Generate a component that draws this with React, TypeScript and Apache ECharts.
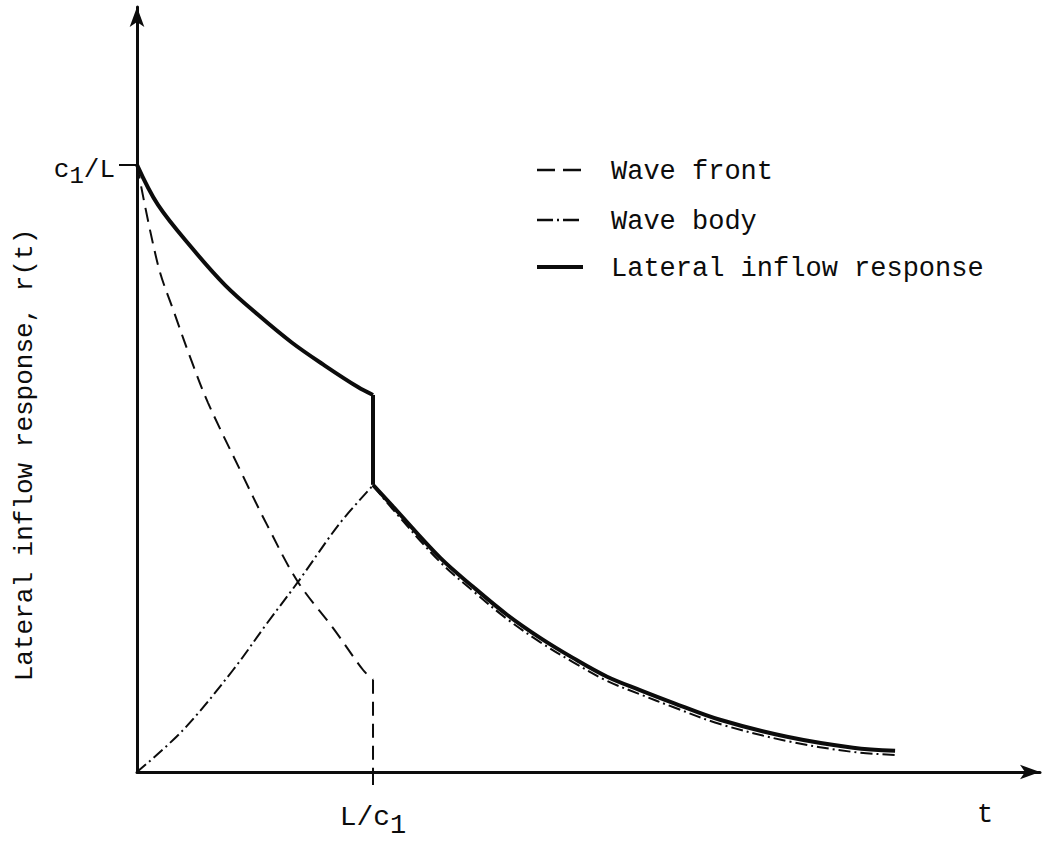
import React, { useEffect, useRef } from "react";
import * as echarts from "echarts";

// time in units of L/c1, response in units of c1/L
const responsePreT = [0, 0.089, 0.233, 0.373, 0.513, 0.657, 0.797, 0.936, 1.0];
const responsePreR = [1.0, 0.934, 0.863, 0.802, 0.753, 0.707, 0.669, 0.634, 0.621];
const responseJumpT = [1.0, 1.0];
const responseJumpR = [0.621, 0.473];
const responsePostT = [1.0, 1.085, 1.284, 1.424, 1.568, 1.708, 1.847, 1.992, 2.131, 2.271, 2.47, 2.754, 3.034, 3.212];
const responsePostR = [0.473, 0.437, 0.353, 0.305, 0.259, 0.221, 0.188, 0.157, 0.135, 0.114, 0.086, 0.058, 0.04, 0.035];

const frontT = [0, 0.089, 0.161, 0.233, 0.301, 0.436, 0.551, 0.682, 0.831, 0.958, 1.0];
const frontR = [1.0, 0.835, 0.753, 0.675, 0.608, 0.498, 0.407, 0.313, 0.237, 0.168, 0.152];
const frontDropT = [1.0, 1.0];
const frontDropR = [0.152, 0];

const bodyPreT = [0, 0.195, 0.407, 0.551, 0.682, 0.86, 1.0];
const bodyPreR = [0, 0.069, 0.168, 0.245, 0.313, 0.41, 0.472];
const bodyPostT = [1.0, 1.085, 1.284, 1.424, 1.568, 1.708, 1.847, 1.992, 2.131, 2.271, 2.47, 2.754, 3.034, 3.212];
const bodyPostR = [0.472, 0.432, 0.346, 0.298, 0.252, 0.214, 0.181, 0.15, 0.128, 0.107, 0.079, 0.051, 0.033, 0.028];

const legendNames = ["Wave front", "Wave body", "Lateral inflow response"];
const xTickValues = [1];
const yTickValues = [1];
const xTickLabel = "L/c{s|1}";
const yTickLabel = "c{s|1}/L";
const yTitle = "Lateral inflow response, r(t)";
const xTitle = "t";

const FONT = "'Liberation Mono', 'DejaVu Sans Mono', monospace";
const INK = "#0c0c0c";

const zip = (a: number[], b: number[]) => a.map((v, i) => [v, b[i]]);

export default function App() {
  const ref = useRef<HTMLDivElement>(null);
  useEffect(() => {
    if (!ref.current) return;
    const chart = echarts.init(ref.current, null, { renderer: "svg" });
    const dashed = { color: INK, width: 2, type: [14, 8] as number[] };
    const dashDot = { color: INK, width: 2, type: [12, 4, 2, 4] as number[] };
    const solid = { color: INK, width: 4, type: "solid" as const };
    const legendStyles = [
      { lineWidth: 2.5, lineDash: [18, 8] },
      { lineWidth: 2.5, lineDash: [16, 4, 2, 4] },
      { lineWidth: 4, lineDash: null },
    ];
    const legendY = [170, 220, 267];
    const legendGraphics: any[] = [];
    legendNames.forEach((name, i) => {
      legendGraphics.push({
        type: "line",
        shape: { x1: 537, y1: legendY[i], x2: 583, y2: legendY[i] },
        style: { stroke: INK, lineWidth: legendStyles[i].lineWidth, lineDash: legendStyles[i].lineDash },
      });
      legendGraphics.push({
        type: "text",
        x: 611,
        y: legendY[i] + 2,
        style: {
          text: name,
          fontFamily: FONT,
          fontSize: 27,
          fill: INK,
          align: "left",
          verticalAlign: "middle",
        },
      });
    });
    const common = { type: "line", symbol: "none", clip: false };
    chart.setOption({
      animation: false,
      backgroundColor: "#fff",
      grid: { left: 137, right: 5, top: 7, bottom: 73 },
      xAxis: {
        type: "value",
        min: 0,
        max: 3.826,
        axisLine: {
          show: true,
          symbol: ["none", "arrow"],
          symbolSize: [11, 20],
          lineStyle: { color: INK, width: 3 },
        },
        axisTick: {
          show: true,
          customValues: xTickValues,
          length: 13,
          lineStyle: { color: INK, width: 2 },
        },
        axisLabel: {
          show: true,
          customValues: xTickValues,
          formatter: () => xTickLabel,
          margin: 24,
          fontFamily: FONT,
          fontSize: 28,
          color: INK,
          rich: { s: { fontFamily: FONT, fontSize: 27, color: INK, padding: [16, 0, 0, 0] } },
        },
        splitLine: { show: false },
      },
      yAxis: {
        type: "value",
        min: 0,
        max: 1.26,
        axisLine: {
          show: true,
          symbol: ["none", "arrow"],
          symbolSize: [11, 20],
          lineStyle: { color: INK, width: 3 },
        },
        axisTick: {
          show: true,
          customValues: yTickValues,
          length: 18,
          lineStyle: { color: INK, width: 2 },
        },
        axisLabel: {
          show: true,
          customValues: yTickValues,
          formatter: () => yTickLabel,
          margin: 22,
          padding: [10, 0, 0, 0],
          fontFamily: FONT,
          fontSize: 26,
          color: INK,
          rich: { s: { fontFamily: FONT, fontSize: 24, color: INK, padding: [14, 0, 0, 0] } },
        },
        splitLine: { show: false },
      },
      graphic: [
        ...legendGraphics,
        {
          type: "text",
          x: 25,
          y: 455,
          rotation: Math.PI / 2,
          style: {
            text: yTitle,
            fontFamily: FONT,
            fontSize: 26,
            fill: INK,
            align: "center",
            verticalAlign: "middle",
          },
        },
        {
          type: "text",
          x: 985,
          y: 815,
          style: {
            text: xTitle,
            fontFamily: FONT,
            fontSize: 27,
            fill: INK,
            align: "center",
            verticalAlign: "middle",
          },
        },
      ],
      series: [
        { ...common, name: legendNames[0], smooth: 0.35, lineStyle: dashed, data: zip(frontT, frontR) },
        { ...common, name: legendNames[0], lineStyle: dashed, data: zip(frontDropT, frontDropR) },
        { ...common, name: legendNames[1], smooth: 0.35, lineStyle: dashDot, data: zip(bodyPreT, bodyPreR) },
        { ...common, name: legendNames[1], smooth: 0.35, lineStyle: dashDot, data: zip(bodyPostT, bodyPostR) },
        { ...common, name: legendNames[2], smooth: 0.35, lineStyle: solid, data: zip(responsePreT, responsePreR) },
        { ...common, name: legendNames[2], lineStyle: solid, data: zip(responseJumpT, responseJumpR) },
        { ...common, name: legendNames[2], smooth: 0.35, lineStyle: solid, data: zip(responsePostT, responsePostR) },
      ],
    });
    return () => chart.dispose();
  }, []);
  return (
    <div
      ref={ref}
      style={{ position: "absolute", left: 0, top: 0, width: 1045, height: 845, background: "#fff" }}
    />
  );
}
